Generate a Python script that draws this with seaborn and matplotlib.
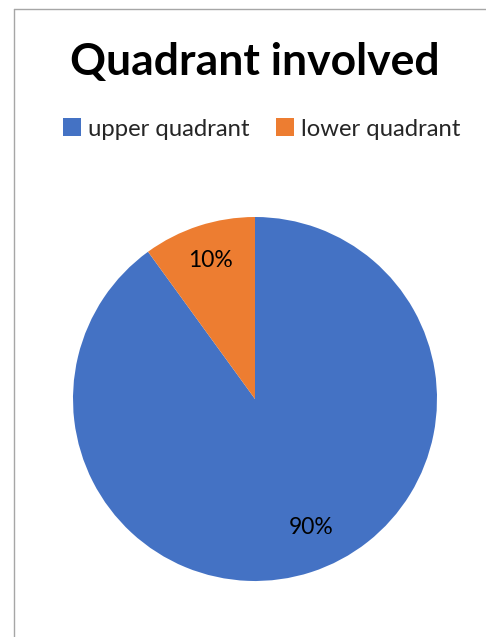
import matplotlib
matplotlib.use("Agg")
import numpy as np
import matplotlib.pyplot as plt
from matplotlib.patches import Patch
from matplotlib.lines import Line2D
import seaborn as sns

# Data
categories = ["upper quadrant", "lower quadrant"]
shares = [90, 10]
colors = ["#4472C4", "#ED7D31"]

sns.set_theme(style="white")
plt.rcParams['font.family'] = ['Lato', 'DejaVu Sans']

W, H = 486, 637
fig = plt.figure(figsize=(W / 100, H / 100), dpi=100)
fig.patch.set_facecolor("white")

# pie area (pixel box: 73..437 x 217..581)
ax = fig.add_axes([73 / W, 1 - 581 / H, 364 / W, 364 / H])
wedges, texts, autotexts = ax.pie(
    shares,
    colors=colors,
    startangle=90,
    counterclock=False,
    autopct="%d%%",
    pctdistance=0.80,
    radius=1,
    wedgeprops={"linewidth": 0},
    textprops={"fontsize": 16.5, "color": "black"},
)
# Excel "best fit" nudges the big label a little off the slice middle
ang = np.deg2rad(156.5)
autotexts[0].set_position((0.77 * np.sin(ang), 0.77 * np.cos(ang)))

ax.set_xlim(-1, 1)
ax.set_ylim(-1, 1)
ax.set_aspect("equal")
ax.axis("off")

# title
fig.text(255 / W, 1 - 75 / H, "Quadrant involved", ha="center", va="baseline",
         fontsize=32, fontweight="bold", color="black")

# legend
handles = [Patch(facecolor=c, edgecolor="none") for c in colors]
fig.legend(handles, categories, loc="center", bbox_to_anchor=(262 / W, 1 - 129 / H),
           ncol=2, frameon=False, fontsize=17.2, handlelength=0.75, handleheight=0.75,
           handletextpad=0.3, columnspacing=1.1)

# chart border (left and top edges visible)
border = dict(color="#A6A6A6", linewidth=1.0, transform=fig.transFigure)
fig.add_artist(Line2D([13.5 / W, 13.5 / W], [0, 1 - 8.5 / H], **border))
fig.add_artist(Line2D([13.5 / W, 1], [1 - 8.5 / H, 1 - 8.5 / H], **border))

fig.savefig("out.png", dpi=100, facecolor="white")
